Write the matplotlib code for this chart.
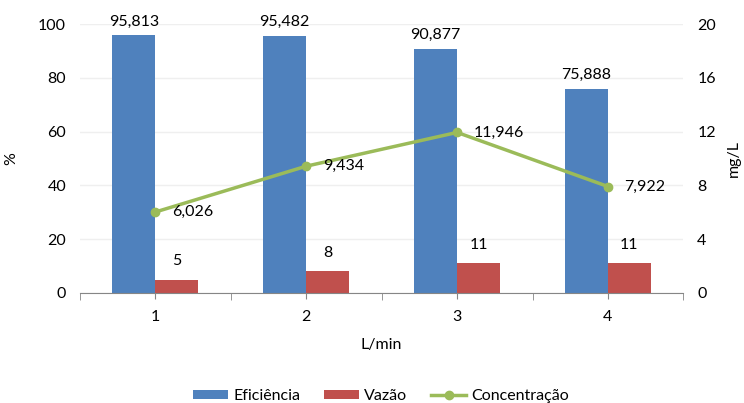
import matplotlib.pyplot as plt
import numpy as np

plt.rcParams['font.family'] = ['Lato', 'DejaVu Sans']

categorias = ['1', '2', '3', '4']
eficiencia = [95.813, 95.482, 90.877, 75.888]
vazao = [5, 8, 11, 11]
concentracao = [6.026, 9.434, 11.946, 7.922]

azul = '#4F81BD'
vermelho = '#C0504D'
verde = '#9BBB59'
cinza = '#868686'

fig = plt.figure(figsize=(7.44, 4.03), dpi=100)
ax1 = fig.add_axes([0.1075, 0.273, 0.811, 0.667])
ax2 = ax1.twinx()

x = np.arange(len(categorias))
w = 0.285

b1 = ax1.bar(x - w / 2, eficiencia, w, color=azul, label='Eficiência', zorder=2)
b2 = ax1.bar(x + w / 2, vazao, w, color=vermelho, label='Vazão', zorder=2)

for xi, v in zip(x, eficiencia):
    ax1.annotate(f'{v:.3f}'.replace('.', ','), (xi - w / 2, v), xytext=(0, 5),
                 textcoords='offset points', ha='center', va='bottom', fontsize=11.5)
for xi, v in zip(x, vazao):
    ax1.annotate(str(v), (xi + w / 2, v), xytext=(0, 8),
                 textcoords='offset points', ha='center', va='bottom', fontsize=11.5)

ln, = ax2.plot(x, concentracao, color=verde, lw=2.5, marker='o', ms=6,
               label='Concentração', zorder=3)
for xi, v in zip(x, concentracao):
    ax2.annotate(f'{v:.3f}'.replace('.', ','), (xi, v), xytext=(12, 0),
                 textcoords='offset points', ha='left', va='center', fontsize=11.5)

ax1.set_xlim(-0.5, 3.5)
ax1.set_ylim(0, 100)
ax1.set_yticks(range(0, 101, 20))
ax2.set_ylim(0, 20)
ax2.set_yticks(range(0, 21, 4))

ax1.set_xticks(x)
ax1.set_xticklabels(categorias)
ax1.set_xticks(np.arange(-0.5, 3.6, 1), minor=True)
ax1.tick_params(axis='x', which='major', length=4, color=cinza, labelsize=11.5, pad=8)
ax1.tick_params(axis='x', which='minor', length=5, color=cinza)
ax1.tick_params(axis='y', length=0, labelsize=11.5, pad=10)
ax2.tick_params(axis='y', length=0, labelsize=11.5, pad=10)

ax1.grid(axis='y', color='#EFEFEF', lw=1, zorder=0)
ax1.set_axisbelow(True)

for ax in (ax1, ax2):
    for s in ('top', 'left', 'right'):
        ax.spines[s].set_visible(False)
ax1.spines['bottom'].set_color(cinza)
ax2.spines['bottom'].set_visible(False)

ax1.set_xlabel('L/min', fontsize=11.5, labelpad=10)
ax1.set_ylabel('%', fontsize=11.5, labelpad=14)
ax2.set_ylabel('mg/L', fontsize=11.5, labelpad=8)

fig.legend(handles=[b1, b2, ln], loc='lower center', bbox_to_anchor=(0.512, -0.035),
           ncol=3, frameon=False, fontsize=11.5, handlelength=2.2, columnspacing=1.5,
           handletextpad=0.3, handleheight=0.5)

fig.savefig('out.png', dpi=100)
